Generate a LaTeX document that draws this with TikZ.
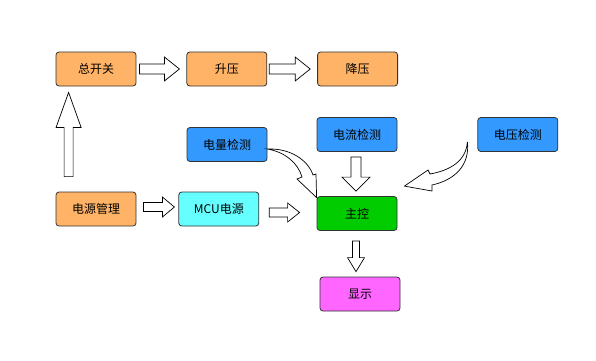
\documentclass[tikz,border=0pt]{standalone}
\usepackage{fontspec}
\setmainfont{Noto Sans CJK SC}
\usetikzlibrary{positioning,calc}
\definecolor{ink}{HTML}{333333}
\definecolor{chengse}{HTML}{FFB366}
\definecolor{lanse}{HTML}{3399FF}
\definecolor{qingse}{HTML}{66FFFF}
\definecolor{lvse}{HTML}{00CC00}
\definecolor{zise}{HTML}{FF66FF}
\tikzset{
  kuai/.style={draw=ink,rounded corners=3pt,align=center,font=\fontsize{12}{14}\selectfont,
    minimum width=80pt,minimum height=34pt,inner sep=2pt,line width=0.8pt},
  jiantou/.style n args={3}{draw=black,fill=white,line width=0.7pt,line join=miter,
    to path={let \p1=(\tikztostart),\p2=(\tikztotarget),
      \n1={atan2(\y2-\y1,\x2-\x1)},\n2={veclen(\x2-\x1,\y2-\y1)} in
      ([shift={(\p1)},rotate=\n1]0pt,-#1pt) -- ([shift={(\p1)},rotate=\n1]\n2-#3pt,-#1pt)
      -- ([shift={(\p1)},rotate=\n1]\n2-#3pt,-#2pt) -- ([shift={(\p1)},rotate=\n1]\n2,0pt)
      -- ([shift={(\p1)},rotate=\n1]\n2-#3pt,#2pt) -- ([shift={(\p1)},rotate=\n1]\n2-#3pt,#1pt)
      -- ([shift={(\p1)},rotate=\n1]0pt,#1pt) -- cycle}},
  wanjiantou/.style={draw=black,fill=white,line width=0.7pt,line join=miter},
}
\begin{document}
\begin{tikzpicture}[x=1pt,y=-1pt]
  \useasboundingbox (0,0) rectangle (596,360);
  % boxes
  \node[kuai,fill=chengse] (zkg) at (96,69) {总开关};
  \node[kuai,fill=chengse,right=50pt of zkg] (sy) {升压};
  \node[kuai,fill=chengse,right=50pt of sy] (jy) {降压};
  \node[kuai,fill=chengse] (dygl) at (96,209) {电源管理};
  \node[kuai,fill=qingse,right=42pt of dygl] (mcu) {MCU电源};
  \node[kuai,fill=lanse] (dljc) at (227,144.5) {电量检测};
  \node[kuai,fill=lanse] (dlliu) at (357,134.5) {电流检测};
  \node[kuai,fill=lanse,right=80pt of dlliu] (dyjc) {电压检测};
  \node[kuai,fill=lvse] (zk) at (357,213.5) {主控};
  \node[kuai,fill=zise] (xs) at (360,294) {显示};
  % straight block arrows
  \draw[jiantou={5}{12}{15}] ($(zkg.east)+(3,0)$) to ($(sy.west)+(-7,0)$);
  \draw[jiantou={5}{12}{15}] ($(sy.east)+(2,0)$) to ($(jy.west)+(-7,0)$);
  \draw[jiantou={4.5}{12.5}{35}] ($(dygl.north west)+(13,-15)$) to ($(zkg.south west)+(13,6)$);
  \draw[jiantou={4.5}{10}{12}] ($(dygl.east)+(7,-2)$) to ($(mcu.west)+(-4,-2)$);
  \draw[jiantou={4.5}{9.5}{12}] ($(mcu.east)+(10,3.5)$) to ($(zk.west)+(-17,-1)$);
  \draw[jiantou={5}{14}{14}] ($(dlliu.south)+(-1,5)$) to ($(zk.north)+(-1,-5)$);
  \draw[jiantou={3.5}{8.5}{14}] ($(zk.south)+(-1,10)$) to ($(xs.north)+(-4,-5)$);
  % curved block arrows
  \coordinate (w1) at ($(dljc.east)+(0,4.5)$);
  \coordinate (j1) at ($(zk.north west)+(0,1.5)$);
  \draw[wanjiantou] (w1) .. controls (290,148) and (308,160) .. (313,175) -- (316,174) -- (j1)
    -- (297,179) -- (302,177) .. controls (298,163) and (285,152) .. (w1) -- cycle;
  \coordinate (w2) at ($(dyjc.west)+(-10,7.5)$);
  \coordinate (j2) at ($(zk.north east)+(7,-10)$);
  \draw[wanjiantou] (w2) .. controls (466,160) and (452,170) .. (430,174) -- (428,170) -- (j2)
    -- (432,191) -- (432,185) .. controls (455,180) and (470,165) .. (w2) -- cycle;
\end{tikzpicture}
\end{document}
